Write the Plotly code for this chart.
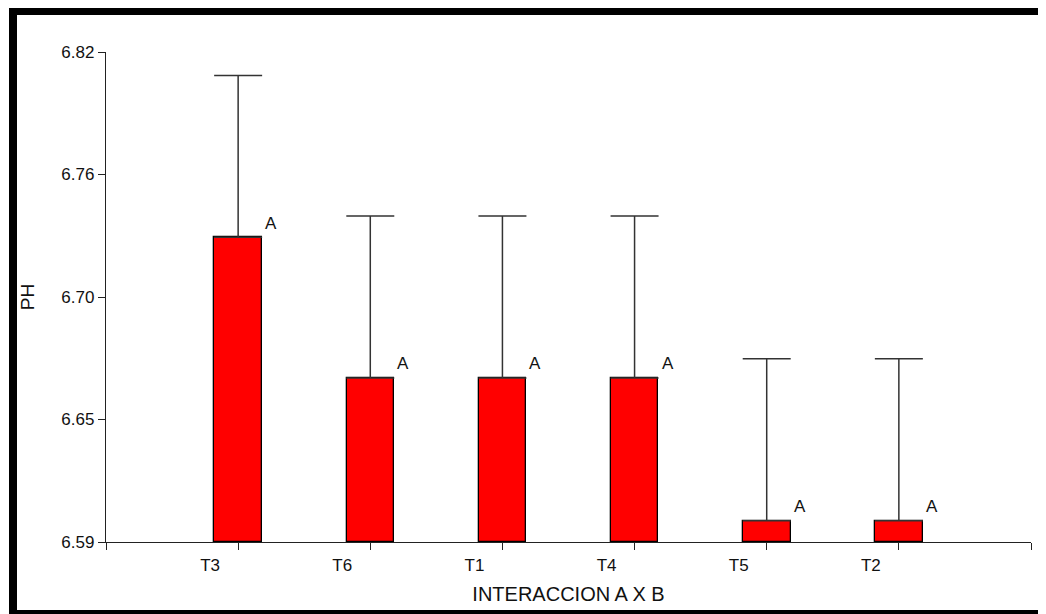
import plotly.graph_objects as go

# ---- data ----
categories = ["T3", "T6", "T1", "T4", "T5", "T2"]
ph_means = [6.733, 6.667, 6.667, 6.667, 6.600, 6.600]
ph_err = [0.076, 0.076, 0.076, 0.076, 0.076, 0.076]
letters = ["A", "A", "A", "A", "A", "A"]
y_tickvals = [6.59, 6.6475, 6.705, 6.7625, 6.82]
y_ticktext = ["6.59", "6.65", "6.70", "6.76", "6.82"]

W, H = 1046, 614
OFF = 8  # page body margin offset
L, R, T, B = 106 - OFF, W - (1031 - OFF), 52 - OFF, H - (542 - OFF)
FONT = "Liberation Sans, Arial, sans-serif"

xpos = list(range(len(categories)))

fig = go.Figure()
fig.add_trace(go.Bar(
    x=xpos, y=[m - 6.59 for m in ph_means], base=6.59,
    width=0.36,
    marker=dict(color="#FF0000", line=dict(color="#000000", width=1.3)),
    error_y=dict(type="data", symmetric=False, array=ph_err,
                 arrayminus=[0] * len(ph_err),
                 color="#333333", thickness=1.5, width=24),
    hoverinfo="skip", showlegend=False,
))

for x, m, t in zip(xpos, ph_means, letters):
    fig.add_annotation(x=x + 0.25, y=m, text=t, showarrow=False,
                       yshift=14, font=dict(family=FONT, size=17, color="#111"))

tickv = [-1] + xpos + [len(categories)]
tickt = [""] + categories + [""]

fig.update_layout(
    width=W, height=H,
    margin=dict(l=L, r=R, t=T, b=B),
    paper_bgcolor="white", plot_bgcolor="white",
    font=dict(family=FONT, color="#111"),
    bargap=0,
    xaxis=dict(range=[-1, len(categories)], tickmode="array",
               tickvals=tickv, ticktext=tickt, ticklabelshift=-28,
               showline=True, linecolor="#222", linewidth=1.3,
               ticks="outside", ticklen=7, tickcolor="#222", tickwidth=1.3,
               showgrid=False, zeroline=False,
               tickfont=dict(family=FONT, size=17, color="#111"),
               title=dict(text="INTERACCION A X B", standoff=13,
                          font=dict(family=FONT, size=20, color="#111"))),
    yaxis=dict(range=[6.59, 6.82], tickmode="array",
               tickvals=y_tickvals, ticktext=y_ticktext,
               showline=True, linecolor="#222", linewidth=1.3,
               ticks="outside", ticklen=7, tickcolor="#222", tickwidth=1.3,
               showgrid=False, zeroline=False,
               tickfont=dict(family=FONT, size=17, color="#111"),
               title=dict(text="PH", standoff=21,
                          font=dict(family=FONT, size=19, color="#111"))),
)

# frame around the picture (page pixel -> paper)
def px(xp):
    return (xp - OFF - L) / (W - L - R)

def py(yp):
    return (H - B - (yp - OFF)) / (H - T - B)

frame = [
    (9, 5, 17, 614, "#000000"),      # left thick
    (9, 5, 1046, 15, "#000000"),     # top thick
    (9, 610, 1046, 614, "#000000"),  # bottom
    (1044, 5, 1046, 614, "#888888"), # right thin
]
for x0, y0, x1, y1, c in frame:
    fig.add_shape(type="rect", xref="paper", yref="paper",
                  x0=px(x0), x1=px(x1), y0=py(y1), y1=py(max(y0, OFF)),
                  fillcolor=c, line=dict(width=0), layer="above")

fig.write_html("out.html")
